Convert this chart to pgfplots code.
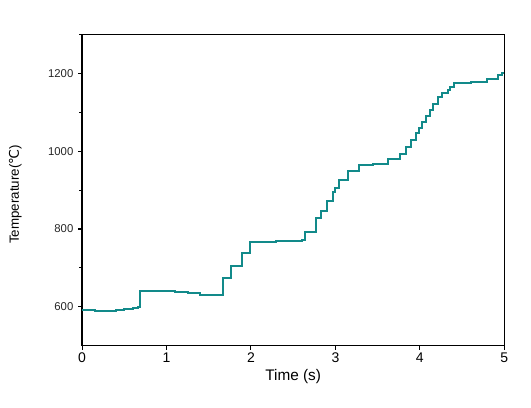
\documentclass[border=0pt]{standalone}
\usepackage{fontspec}
\setmainfont{Liberation Sans}
\newfontfamily\symfont{DejaVu Sans}
\usepackage{pgfplots}
\pgfplotsset{compat=1.18}
\definecolor{tealc}{RGB}{18,138,138}
\begin{document}
\begin{tikzpicture}
\begin{axis}[
  scale only axis,
  width=316.5pt, height=233pt,
  xmin=0, xmax=5, ymin=500, ymax=1300,
  xtick={0,1,2,3,4,5},
  ytick={600,800,1000,1200},
  minor ytick={700,900,1100,1300},
  tick pos=left,
  tick align=outside,
  major tick length=3pt,
  minor tick length=2pt,
  every tick/.style={black, line width=0.8pt},
  axis line style={line width=0.9pt},
  /pgf/number format/assume math mode=true,
  /pgf/number format/1000 sep={},
  xticklabel style={font=\fontsize{10.5}{12}\selectfont, yshift=1pt},
  yticklabel style={font=\fontsize{8.5}{10}\selectfont, text=black!85},
  xlabel={Time (s)},
  ylabel={Temperature({\symfont ℃})},
  xlabel style={font=\fontsize{11.5}{13}\selectfont, at={(axis description cs:0.5,-0.099)}, anchor=center},
  ylabel style={font=\fontsize{10}{12}\selectfont, at={(axis description cs:-0.158,0.486)}, anchor=center, rotate=0},
]
\addplot[const plot, color=tealc, line width=1.5pt, line join=miter] coordinates {
(0,591) (0.15,590) (0.30,590) (0.40,592) (0.50,594) (0.60,596) (0.66,598)
(0.69,640) (0.80,640) (0.95,640) (1.10,638) (1.25,635) (1.40,631) (1.50,630)
(1.667,675) (1.762,705) (1.888,737) (1.983,767) (2.10,767) (2.30,768) (2.50,769) (2.60,771)
(2.638,793) (2.765,827) (2.828,847) (2.899,872) (2.97,895) (2.99,906) (3.045,926) (3.144,949)
(3.274,965) (3.45,966) (3.617,979) (3.77,993) (3.83,1010) (3.89,1028) (3.95,1046) (3.985,1059)
(4.025,1076) (4.07,1090) (4.115,1106) (4.16,1122) (4.21,1140) (4.26,1150) (4.33,1158) (4.36,1166)
(4.40,1176) (4.60,1177) (4.80,1185) (4.92,1195) (4.97,1202) (5.0,1202)
};
\end{axis}
\path[use as bounding box] ([xshift=-61.5pt,yshift=-46.5pt]current axis.south west) rectangle ([xshift=20pt,yshift=26pt]current axis.north east);
\end{tikzpicture}
\end{document}
